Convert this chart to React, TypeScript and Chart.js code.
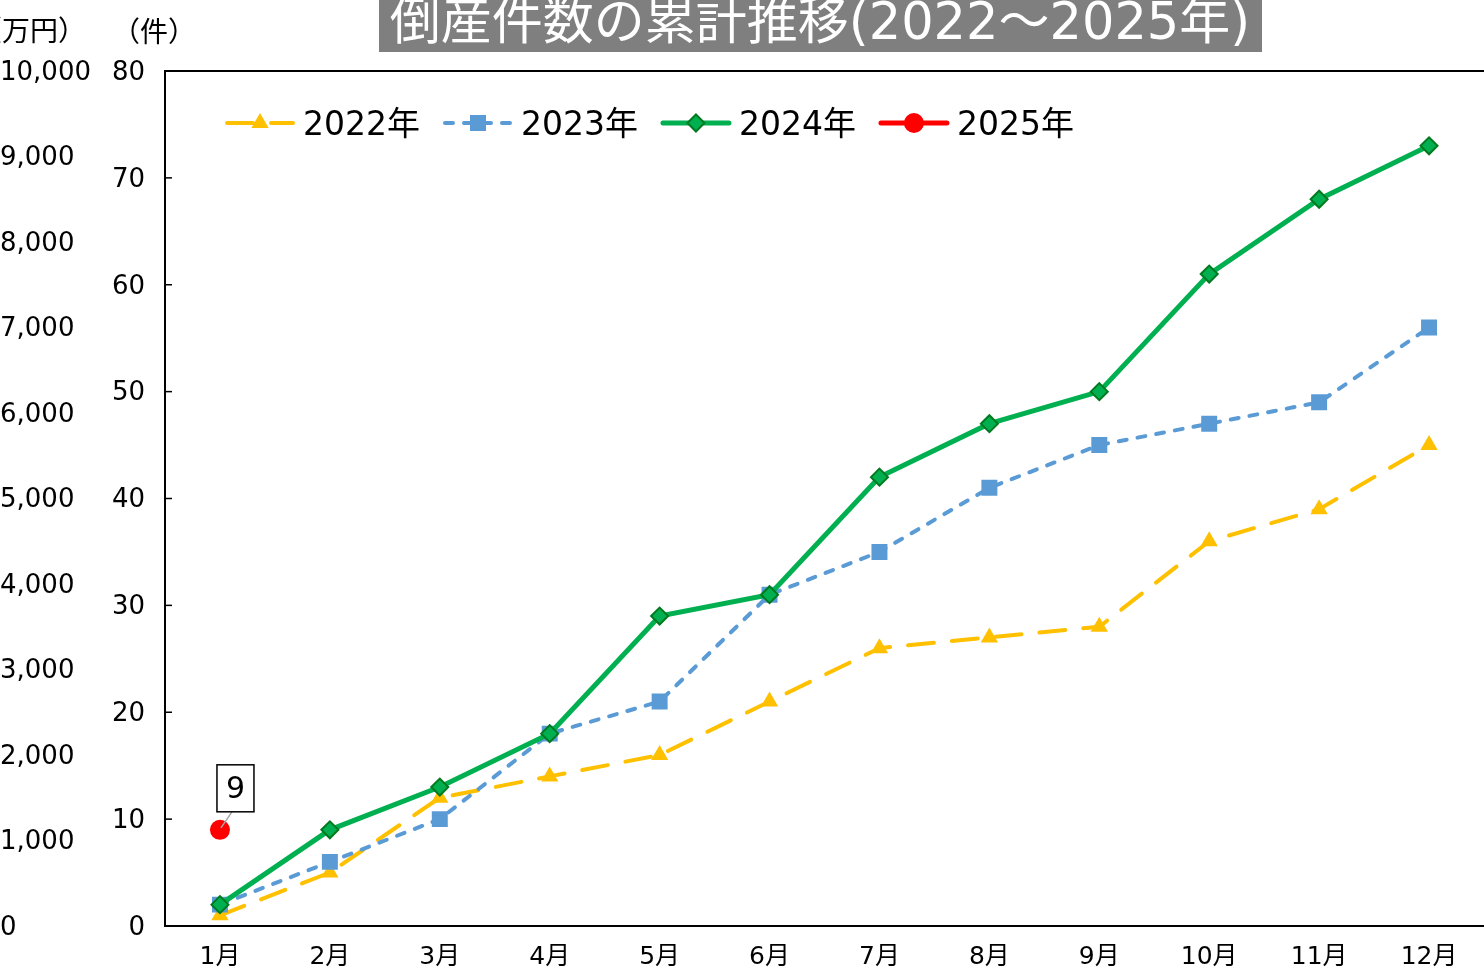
import React, { useEffect, useRef } from "react";
import { Chart, registerables } from "chart.js";

Chart.register(...registerables);

const TITLE = "倒産件数の累計推移(2022～2025年)";
const months = ["1月", "2月", "3月", "4月", "5月", "6月", "7月", "8月", "9月", "10月", "11月", "12月"];
const s2022 = [1, 5, 12, 14, 16, 21, 26, 27, 28, 36, 39, 45];
const s2023 = [2, 6, 10, 18, 21, 31, 35, 41, 45, 47, 49, 56];
const s2024 = [2, 9, 13, 18, 29, 31, 42, 47, 50, 61, 68, 73];
const s2025 = [9, null, null, null, null, null, null, null, null, null, null, null];
const seriesNames = ["2022年", "2023年", "2024年", "2025年"];
const countTicks = [0, 10, 20, 30, 40, 50, 60, 70, 80];
const amountTicks = [0, 1000, 2000, 3000, 4000, 5000, 6000, 7000, 8000, 9000, 10000];

const FONT = "'DejaVu Sans', 'Noto Sans CJK JP', sans-serif";
const CJK = "'Noto Sans CJK JP', sans-serif";

const overlayPlugin = {
  id: "overlay",
  afterDraw(chart: any) {
    const { ctx, chartArea, scales } = chart;
    ctx.save();
    // top border of plot area
    ctx.strokeStyle = "#000";
    ctx.lineWidth = 2;
    ctx.beginPath();
    ctx.moveTo(chartArea.left - 1, chartArea.top);
    ctx.lineTo(chartArea.right, chartArea.top);
    ctx.stroke();
    // inner tick marks
    ctx.lineWidth = 1.5;
    countTicks.forEach((v) => {
      const py = scales.y.getPixelForValue(v);
      ctx.beginPath();
      ctx.moveTo(chartArea.left, py);
      ctx.lineTo(chartArea.left + 7, py);
      ctx.stroke();
    });

    // title
    ctx.fillStyle = "#7f7f7f";
    ctx.fillRect(379, 0, 883, 52);
    ctx.fillStyle = "#fff";
    ctx.font = `51px ${FONT}`;
    ctx.textAlign = "center";
    ctx.textBaseline = "alphabetic";
    ctx.fillText(TITLE, 820, 39);

    // unit labels
    ctx.fillStyle = "#000";
    ctx.font = `28px ${CJK}`;
    ctx.textAlign = "left";
    ctx.textBaseline = "middle";
    ctx.fillText("（万円）", -26, 30);
    ctx.fillText("（件）", 112, 31);

    // legend
    const meta = chart.data.datasets;
    let x = 225;
    const ly = 123;
    ctx.font = `33px ${FONT}`;
    meta.forEach((ds: any, i: number) => {
      ctx.save();
      ctx.strokeStyle = ds.borderColor;
      ctx.lineWidth = ds.borderWidth;
      ctx.lineCap = "round";
      ctx.setLineDash(ds.borderDash || []);
      ctx.beginPath();
      ctx.moveTo(x + 2, ly);
      ctx.lineTo(x + 68, ly);
      ctx.stroke();
      ctx.setLineDash([]);
      ctx.fillStyle = ds.pointBackgroundColor;
      ctx.strokeStyle = ds.pointBorderColor;
      ctx.lineWidth = ds.pointBorderWidth;
      drawMarker(ctx, ds.pointStyle, ds.pointRadius, x + 35, ly, ds.pointBorderWidth);
      ctx.restore();
      ctx.fillStyle = "#000";
      ctx.textAlign = "left";
      ctx.textBaseline = "middle";
      ctx.fillText(seriesNames[i], x + 78, ly + 3);
      x = x + 78 + ctx.measureText(seriesNames[i]).width + 23;
    });

    // data label for 2025
    const px = scales.x.getPixelForValue(0);
    const py = scales.y.getPixelForValue(s2025[0] as number);
    ctx.strokeStyle = "#a6a6a6";
    ctx.lineWidth = 1.5;
    ctx.beginPath();
    ctx.moveTo(px + 12, py - 18);
    ctx.lineTo(px + 1, py - 2);
    ctx.stroke();
    ctx.fillStyle = "#fff";
    ctx.fillRect(px - 3, py - 65, 37, 47);
    ctx.strokeStyle = "#000";
    ctx.lineWidth = 1.5;
    ctx.strokeRect(px - 3, py - 65, 37, 47);
    ctx.fillStyle = "#000";
    ctx.font = `30px ${FONT}`;
    ctx.textAlign = "center";
    ctx.textBaseline = "middle";
    ctx.fillText(String(s2025[0]), px + 15.5, py - 40);
    ctx.restore();
  },
};

function drawMarker(ctx: CanvasRenderingContext2D, style: string, r: number, x: number, y: number, bw: number) {
  ctx.beginPath();
  if (style === "triangle") {
    for (let k = 0; k < 3; k++) {
      const a = (k * 2 * Math.PI) / 3;
      const xx = x + Math.sin(a) * r;
      const yy = y - Math.cos(a) * r;
      if (k === 0) ctx.moveTo(xx, yy);
      else ctx.lineTo(xx, yy);
    }
    ctx.closePath();
  } else if (style === "rect") {
    const s = r * Math.SQRT1_2;
    ctx.rect(x - s, y - s, 2 * s, 2 * s);
  } else if (style === "rectRot") {
    ctx.moveTo(x - r, y);
    ctx.lineTo(x, y - r);
    ctx.lineTo(x + r, y);
    ctx.lineTo(x, y + r);
    ctx.closePath();
  } else {
    ctx.arc(x, y, r, 0, Math.PI * 2);
  }
  ctx.fill();
  if (bw > 0) ctx.stroke();
}

export default function App() {
  const ref = useRef<HTMLCanvasElement | null>(null);
  useEffect(() => {
    if (!ref.current) return;
    const chart = new Chart(ref.current, {
      type: "line",
      data: {
        labels: months,
        datasets: [
          {
            label: seriesNames[0],
            data: s2022,
            borderColor: "#FFC000",
            backgroundColor: "#FFC000",
            borderWidth: 4,
            borderDash: [26, 18],
            borderCapStyle: "round",
            pointStyle: "triangle",
            pointRadius: 10,
            pointBackgroundColor: "#FFC000",
            pointBorderColor: "#FFC000",
            pointBorderWidth: 0,
            tension: 0,
            order: 3,
            yAxisID: "y",
          },
          {
            label: seriesNames[1],
            data: s2023,
            borderColor: "#5B9BD5",
            backgroundColor: "#5B9BD5",
            borderWidth: 4,
            borderDash: [8, 11],
            borderCapStyle: "round",
            pointStyle: "rect",
            pointRadius: 11.3,
            pointBackgroundColor: "#5B9BD5",
            pointBorderColor: "#5B9BD5",
            pointBorderWidth: 0,
            tension: 0,
            order: 2,
            yAxisID: "y",
          },
          {
            label: seriesNames[2],
            data: s2024,
            borderColor: "#00B050",
            backgroundColor: "#00B050",
            borderWidth: 5,
            pointStyle: "rectRot",
            pointRadius: 8.5,
            pointBackgroundColor: "#00B050",
            pointBorderColor: "#007A1E",
            pointBorderWidth: 2,
            tension: 0,
            order: 1,
            yAxisID: "y",
          },
          {
            label: seriesNames[3],
            data: s2025,
            borderColor: "#FF0000",
            backgroundColor: "#FF0000",
            borderWidth: 5,
            pointStyle: "circle",
            pointRadius: 10,
            pointBackgroundColor: "#FF0000",
            pointBorderColor: "#FF0000",
            pointBorderWidth: 0,
            tension: 0,
            order: 0,
            yAxisID: "y",
          },
        ],
      },
      options: {
        responsive: false,
        animation: false,
        devicePixelRatio: 1,
        layout: { autoPadding: false, padding: { top: 71, left: 0, right: 0, bottom: 0 } },
        plugins: {
          legend: { display: false },
          title: { display: false },
          tooltip: { enabled: false },
        },
        elements: { point: { hoverRadius: 10 } },
        scales: {
          x: {
            type: "category",
            offset: true,
            grid: { display: false, drawTicks: false },
            border: { display: true, color: "#000", width: 2 },
            ticks: {
              color: "#000",
              font: { family: FONT, size: 25 },
              padding: 16,
              maxRotation: 0,
              autoSkip: false,
            },
            afterFit: (s: any) => {
              s.height = 47;
              s.paddingLeft = 0;
              s.paddingRight = 0;
            },
          },
          y: {
            type: "linear",
            position: "left",
            min: 0,
            max: 80,
            weight: 0,
            afterBuildTicks: (s: any) => {
              s.ticks = countTicks.map((v) => ({ value: v }));
            },
            grid: { display: false, drawTicks: false },
            border: { display: true, color: "#000", width: 2 },
            ticks: {
              color: "#000",
              font: { family: FONT, size: 26 },
              padding: 20,
              labelOffset: 2,
            },
            afterFit: (s: any) => {
              s.width = 65;
              s.paddingTop = 0;
              s.paddingBottom = 0;
            },
          },
          y2: {
            type: "linear",
            position: "left",
            min: 0,
            max: 10000,
            weight: 10,
            afterBuildTicks: (s: any) => {
              s.ticks = amountTicks.map((v) => ({ value: v }));
            },
            grid: { display: false, drawTicks: false },
            border: { display: false },
            ticks: {
              color: "#000",
              font: { family: FONT, size: 26 },
              crossAlign: "far",
              padding: 0,
              labelOffset: 2,
              callback: (v: any) => Number(v).toLocaleString("en-US"),
            },
            afterFit: (s: any) => {
              s.width = 100;
              s.paddingTop = 0;
              s.paddingBottom = 0;
            },
          },
        },
      } as any,
      plugins: [overlayPlugin],
    });
    return () => chart.destroy();
  }, []);
  return (
    <div style={{ position: "fixed", left: 0, top: 0, width: 1484, height: 973, background: "#fff" }}>
      <canvas ref={ref} width={1484} height={973} style={{ display: "block" }} />
    </div>
  );
}
